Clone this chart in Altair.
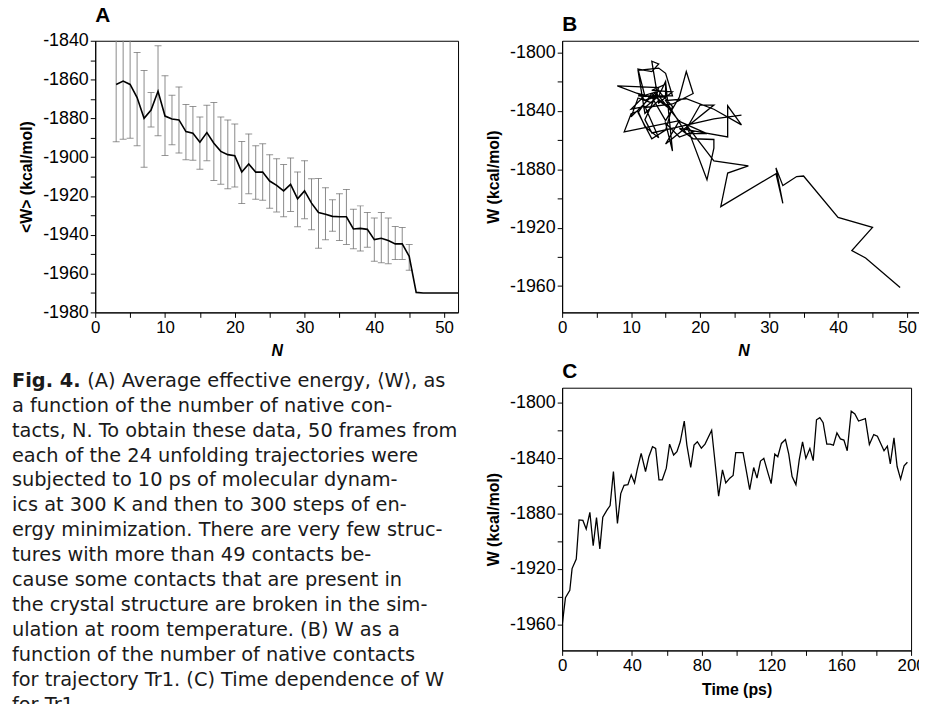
import altair as alt
import pandas as pd

FONT = "Liberation Sans"
CAPFONT = "DejaVu Sans"

# ---------------- Panel A: <W> vs N with error bars ----------------
a_N = list(range(3, 53))
a_W = [-1862.5, -1860.8, -1862.5, -1869.3, -1880.0, -1875.7, -1866.0, -1878.8, -1880.3, -1880.8,
       -1886.8, -1887.7, -1892.3, -1887.3, -1892.8, -1897.0, -1898.7, -1899.2, -1907.6, -1903.5,
       -1907.7, -1907.7, -1912.3, -1914.5, -1917.4, -1914.0, -1921.5, -1917.4, -1923.7, -1928.5,
       -1929.4, -1930.5, -1930.7, -1930.7, -1937.0, -1936.7, -1937.2, -1942.5, -1941.8, -1943.0,
       -1944.7, -1944.7, -1951.1, -1969.7, -1970.0, -1970.0, -1970.0, -1970.0, -1970.0, -1970.0]

e_N = list(range(3, 46))
e_hi = [-1833.0, -1831.0, -1835.0, -1846.0, -1855.3, -1866.7, -1842.6, -1858.0, -1868.1, -1863.8,
        -1872.8, -1873.9, -1879.3, -1873.2, -1871.8, -1879.3, -1880.8, -1882.9, -1891.9, -1888.0,
        -1894.1, -1893.1, -1898.7, -1900.8, -1903.8, -1900.4, -1907.6, -1901.8, -1911.1, -1911.0,
        -1915.7, -1922.0, -1918.8, -1916.6, -1926.8, -1925.1, -1928.5, -1931.4, -1928.5, -1931.4,
        -1935.7, -1936.2, -1945.0]
e_lo = [-1892.1, -1890.7, -1890.2, -1894.1, -1905.2, -1884.4, -1889.0, -1899.1, -1893.6, -1897.9,
        -1901.3, -1901.6, -1906.2, -1901.8, -1912.0, -1913.9, -1916.3, -1915.4, -1923.9, -1918.8,
        -1921.7, -1922.2, -1926.3, -1928.2, -1930.7, -1928.0, -1935.8, -1931.7, -1937.4, -1946.9,
        -1942.6, -1938.2, -1943.0, -1945.0, -1947.2, -1948.4, -1946.4, -1953.7, -1954.4, -1954.9,
        -1952.8, -1952.7, -1958.3]

# ---------------- Panels B and C: trajectory Tr1 ----------------
c_t = [0, 1.9, 4.4, 5.7, 8.1, 9.7, 11.9, 13.8, 15.9, 17.8,
       19.7, 21.6, 23.3, 25.6, 27.5, 29.4, 31.7, 33.6, 35.5, 37.7,
       39.6, 41.5, 43.0, 45.3, 47.8, 49.7, 51.8, 53.6, 55.5, 57.4,
       59.7, 61.6, 63.9, 65.8, 67.7, 70.0, 71.5, 73.7, 75.6, 77.5,
       79.8, 81.9, 85.7, 89.7, 91.9, 93.8, 96.1, 98.0, 99.5, 103.7,
       107.5, 109.8, 111.7, 113.7, 115.6, 118.0, 119.8, 121.9, 123.6, 125.7,
       128.0, 129.9, 131.8, 134.0, 135.9, 137.8, 139.7, 142.0, 143.9, 145.8,
       147.7, 149.6, 151.7, 153.6, 155.5, 157.5, 159.5, 161.5, 163.4, 165.7,
       167.8, 169.9, 173.8, 176.1, 178.6, 180.7, 184.5, 186.4, 188.1, 190.2,
       192.0, 194.0, 196.0, 197.9]
c_W = [-1961.0, -1940.8, -1935.6, -1919.8, -1912.9, -1884.6, -1885.0, -1891.2, -1879.1, -1903.3,
       -1883.0, -1905.6, -1882.6, -1877.7, -1874.2, -1849.6, -1887.2, -1865.6, -1859.6, -1859.1,
       -1852.0, -1857.9, -1848.4, -1836.5, -1849.6, -1838.9, -1831.7, -1832.9, -1855.6, -1855.6,
       -1847.2, -1829.8, -1837.7, -1835.3, -1828.1, -1813.1, -1830.5, -1846.7, -1830.5, -1828.1,
       -1832.7, -1829.8, -1819.8, -1867.5, -1848.4, -1857.9, -1854.4, -1852.5, -1836.0, -1836.0,
       -1862.7, -1846.7, -1854.4, -1842.0, -1840.1, -1850.8, -1858.4, -1837.0, -1838.9, -1829.3,
       -1826.5, -1837.0, -1853.2, -1859.1, -1841.2, -1828.1, -1840.1, -1832.9, -1841.7, -1812.2,
       -1810.7, -1814.3, -1829.8, -1829.8, -1830.5, -1821.7, -1826.0, -1826.9, -1834.6, -1806.0,
       -1807.9, -1813.1, -1811.4, -1830.0, -1822.9, -1824.1, -1834.6, -1831.2, -1844.1, -1825.3,
       -1846.0, -1855.1, -1845.5, -1842.9]
b_N = [49, 44, 42, 45, 40, 35, 34, 32, 31, 32,
       31, 23, 24, 27, 22, 18, 21, 22, 22, 19,
       17, 24, 24, 24, 26, 22, 18, 15, 18, 21,
       17, 14, 12, 16, 19, 18, 17, 15, 13, 11,
       12, 14, 15, 16, 15, 17, 19, 18, 20, 22,
       15, 17, 9, 10, 11, 12, 14, 12, 10, 12,
       14, 16, 15, 13, 11, 13, 16, 14, 12, 11,
       14, 15, 16, 11, 15, 15, 13, 16, 14, 13,
       14, 13, 11, 12, 8, 14, 13, 11, 10, 14,
       12, 13, 22, 26]

# ---------------- Caption ----------------
cap_head = "Fig. 4."
cap_lines = [
    "(A) Average effective energy, \u27e8W\u27e9, as",
    "a function of the number of native con-",
    "tacts, N. To obtain these data, 50 frames from",
    "each of the 24 unfolding trajectories were",
    "subjected to 10 ps of molecular dynam-",
    "ics at 300 K and then to 300 steps of en-",
    "ergy minimization. There are very few struc-",
    "tures with more than 49 contacts be-",
    "cause some contacts that are present in",
    "the crystal structure are broken in the sim-",
    "ulation at room temperature. (B) W as a",
    "function of the number of native contacts",
    "for trajectory Tr1. (C) Time dependence of W",
    "for Tr1.",
]

dfA = pd.DataFrame({"N": a_N, "W": a_W})
dfE = pd.DataFrame({"N": e_N, "hi": e_hi, "lo": e_lo})
dfT = pd.DataFrame({"t": c_t, "W": c_W, "N": b_N})
dfCap = pd.DataFrame({"line": list(range(len(cap_lines))), "text": cap_lines})
dfHead = pd.DataFrame({"line": [0], "text": [cap_head]})


def lab(step):
    return f"datum.value % {step} == 0 ? '' + datum.value : ''"


def yaxis(values, step, title):
    return alt.Axis(values=values, labelExpr=lab(step), title=title, labelOverlap=False,
                    labelFlush=False, labelBound=False, labelSeparation=0, labelFontSize=18)


def xaxis(values, step, title, italic=False):
    kw = {"titleFontStyle": "italic"} if italic else {}
    return alt.Axis(values=values, labelExpr=lab(step), title=title, labelOverlap=False,
                    labelFlush=False, **kw)


def panel_title(t):
    return alt.TitleParams(t, anchor="start", frame="group", fontSize=21, fontWeight="bold",
                           font=FONT, color="black", offset=6)


# Panel A (same axis definition given to every layer so nothing is merged away)
xA_scale = alt.Scale(domain=[0, 52], nice=False, zero=False)
xA_axis = xaxis(list(range(0, 55, 5)), 10, "N", italic=True)
yA_scale = alt.Scale(domain=[-1980, -1840], nice=False, zero=False)
yA_axis = yaxis(list(range(-1980, -1839, 10)), 20, "<W> (kcal/mol)")


def xA(f):
    return alt.X(f, scale=xA_scale, axis=xA_axis)


def yA(f):
    return alt.Y(f, scale=yA_scale, axis=yA_axis)


errA = alt.Chart(dfE).mark_rule(color="#8a8a8a", strokeWidth=1, clip=True).encode(
    x=xA("N:Q"), y=yA("lo:Q"), y2="hi:Q")
capHi = alt.Chart(dfE).mark_tick(color="#6a6a6a", thickness=1, size=7, orient="horizontal",
                                 clip=True).encode(x=xA("N:Q"), y=yA("hi:Q"))
capLo = alt.Chart(dfE).mark_tick(color="#6a6a6a", thickness=1, size=7, orient="horizontal",
                                 clip=True).encode(x=xA("N:Q"), y=yA("lo:Q"))
lineA = alt.Chart(dfA).mark_line(color="black", strokeWidth=1.6, clip=True).encode(
    x=xA("N:Q"), y=yA("W:Q"))
chartA = alt.layer(errA, capHi, capLo, lineA).properties(
    width=366, height=274, title=panel_title("A"))

# Panel B
xB = alt.X("N:Q", scale=alt.Scale(domain=[0, 52.6], nice=False, zero=False),
           axis=xaxis(list(range(0, 55, 5)), 10, "N", italic=True))
yB = alt.Y("W:Q", scale=alt.Scale(domain=[-1978, -1792], nice=False, zero=False),
           axis=yaxis(list(range(-1960, -1799, 20)), 40, "W (kcal/mol)"))
chartB = alt.Chart(dfT).mark_line(color="black", strokeWidth=1.3, clip=True).encode(
    x=xB, y=yB, order=alt.Order("t:Q")).properties(width=366, height=274,
                                                    title=panel_title("B"))

# Panel C
xC = alt.X("t:Q", scale=alt.Scale(domain=[0, 200], nice=False, zero=False),
           axis=xaxis(list(range(0, 201, 20)), 40, "Time (ps)"))
yC = alt.Y("W:Q", scale=alt.Scale(domain=[-1979, -1789], nice=False, zero=False),
           axis=yaxis(list(range(-1960, -1799, 20)), 40, "W (kcal/mol)"))
chartC = alt.Chart(dfT).mark_line(color="black", strokeWidth=1.3, clip=True).encode(
    x=xC, y=yC).properties(width=352, height=265, title=panel_title("C"))

# Caption
capY = alt.Y("line:Q", scale=alt.Scale(domain=[0, 14], reverse=True, nice=False, zero=False),
             axis=None)
capBody = alt.Chart(dfCap).transform_filter("datum.line > 0").mark_text(
    align="left", baseline="alphabetic", font=CAPFONT, fontSize=19.5, color="#1a1a1a").encode(
    x=alt.value(-84), y=capY, text="text:N")
capFirst = alt.Chart(dfCap).transform_filter("datum.line == 0").mark_text(
    align="left", baseline="alphabetic", font=CAPFONT, fontSize=19.5, color="#1a1a1a",
    dx=76).encode(x=alt.value(-84), y=capY, text="text:N")
capHead = alt.Chart(dfHead).mark_text(
    align="left", baseline="alphabetic", font=CAPFONT, fontSize=19.5, fontWeight="bold",
    color="#1a1a1a").encode(x=alt.value(-84), y=capY, text="text:N")
caption = alt.layer(capBody, capFirst, capHead).properties(
    width=366, height=352, view=alt.ViewConfig(strokeOpacity=0))

left = alt.vconcat(chartA, caption, spacing=11)
right = alt.vconcat(chartB, chartC, spacing=0)

chart = alt.hconcat(left, right, spacing=26).properties(
    autosize=alt.AutoSizeParams(type="none"),
    padding={"left": 88, "top": 30, "right": 831, "bottom": 666}
).configure_view(stroke="black", strokeWidth=1).configure_axis(
    grid=False, domainColor="black", tickColor="black", tickSize=5, labelFont=FONT,
    labelFontSize=17, labelColor="black", titleFont=FONT, titleFontSize=16,
    titleFontWeight="bold", titleColor="black", labelPadding=2, titlePadding=8,
    labelOverlap=False, labelFlush=False
)

chart.save("out.html", embed_options={"renderer": "svg", "actions": False})
